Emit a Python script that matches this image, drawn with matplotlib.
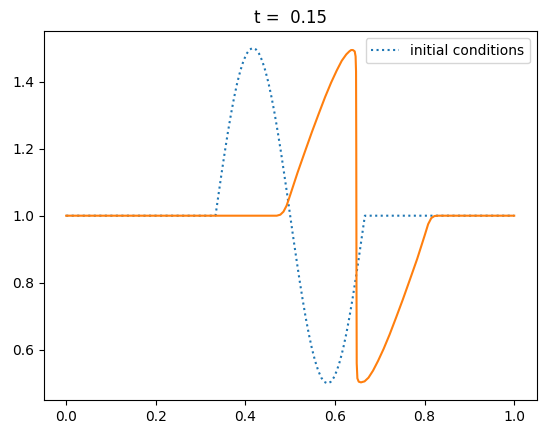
import matplotlib
matplotlib.use("Agg")
import matplotlib.pyplot as plt

# initial condition: flat at 1 with one sine period on [1/3, 2/3]
ic_x = [0.0, 0.3333, 0.3403, 0.3472, 0.3542, 0.3611, 0.3681, 0.3750, 0.3819,
        0.3889, 0.3958, 0.4028, 0.4097, 0.4167, 0.4236, 0.4306, 0.4375, 0.4444,
        0.4514, 0.4583, 0.4653, 0.4722, 0.4792, 0.4861, 0.4931, 0.5000, 0.5069,
        0.5139, 0.5208, 0.5278, 0.5347, 0.5417, 0.5486, 0.5556, 0.5625, 0.5694,
        0.5764, 0.5833, 0.5903, 0.5972, 0.6042, 0.6111, 0.6181, 0.6250, 0.6319,
        0.6389, 0.6458, 0.6528, 0.6597, 0.6667, 1.0]
ic_y = [1.0, 1.0, 1.0653, 1.1294, 1.1913, 1.25, 1.3044, 1.3536, 1.3967,
        1.4330, 1.4619, 1.4830, 1.4957, 1.5, 1.4957, 1.4830, 1.4619, 1.4330,
        1.3967, 1.3536, 1.3044, 1.25, 1.1913, 1.1294, 1.0653, 1.0, 0.9347,
        0.8706, 0.8087, 0.75, 0.6956, 0.6464, 0.6033, 0.5670, 0.5381, 0.5170,
        0.5043, 0.5, 0.5043, 0.5170, 0.5381, 0.5670, 0.6033, 0.6464, 0.6956,
        0.75, 0.8087, 0.8706, 0.9347, 1.0, 1.0]

# solution at t = 0.15
sol_x = [0.0, 0.470, 0.478, 0.485, 0.492, 0.5001, 0.5166, 0.5329, 0.5486,
         0.5637, 0.5780, 0.5914, 0.6039, 0.6151, 0.6252, 0.632, 0.636, 0.640,
         0.644, 0.646, 0.647, 0.6475, 0.648, 0.6485, 0.650, 0.653, 0.658,
         0.666, 0.6748, 0.6849, 0.6961, 0.7086, 0.7220, 0.7363, 0.7514, 0.7671,
         0.7834, 0.7999, 0.808, 0.815, 0.822, 0.830, 1.0]
sol_y = [1.0, 1.0, 1.003, 1.012, 1.030, 1.062, 1.129, 1.191, 1.250,
         1.304, 1.354, 1.397, 1.433, 1.462, 1.481, 1.490, 1.494, 1.494,
         1.490, 1.475, 1.430, 1.200, 0.800, 0.560, 0.515, 0.505, 0.503,
         0.506, 0.517, 0.538, 0.567, 0.603, 0.646, 0.696, 0.750, 0.809,
         0.871, 0.940, 0.975, 0.993, 0.999, 1.0, 1.0]

fig = plt.figure(figsize=(5.47, 4.34), dpi=100)
ax = fig.add_axes([0.080, 0.078, 0.901, 0.850])

ax.plot(ic_x, ic_y, ':', label='initial conditions')
ax.plot(sol_x, sol_y)
ax.set_title('t =  0.15')
ax.legend(loc='upper right')

fig.savefig('out.png', dpi=100)
